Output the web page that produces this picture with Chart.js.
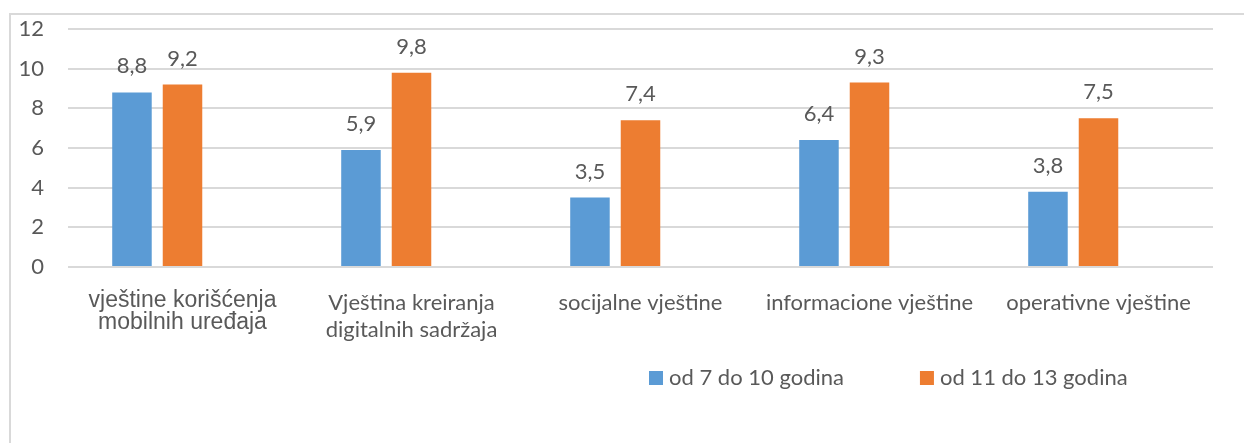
<!DOCTYPE html>
<html>
<head>
<meta charset="utf-8">
<script src="https://cdn.jsdelivr.net/npm/chart.js@4.4.0/dist/chart.umd.min.js"></script>
<style>
  html, body { margin: 0; padding: 0; background: #fff; }
  #wrap { position: relative; width: 1244px; height: 443px; overflow: hidden; }
  #frame { position: absolute; left: 9px; top: 13px; width: 1300px; height: 500px;
           border-top: 2px solid #D9D9D9; border-left: 2px solid #D9D9D9; box-sizing: border-box; }
  canvas { position: absolute; left: 0; top: 0; }
</style>
</head>
<body>
<div id="wrap">
  <div id="frame"></div>
  <canvas id="c" width="1244" height="443"></canvas>
</div>
<script>
const categories = [
  ['vještine korišćenja', 'mobilnih uređaja'],
  ['Vještina kreiranja', 'digitalnih sadržaja'],
  'socijalne vještine',
  'informacione vještine',
  'operativne vještine'
];
const seriesNames = ['od 7 do 10 godina', 'od 11 do 13 godina'];
const young = [8.8, 5.9, 3.5, 6.4, 3.8];
const older = [9.2, 9.8, 7.4, 9.3, 7.5];
const emptySeries = [null, null, null, null, null];
const yTicks = [0, 2, 4, 6, 8, 10, 12];

const BLUE = '#5B9BD5', ORANGE = '#ED7D31', TEXT = '#595959';
const CAL = 'Lato, "Open Sans", sans-serif';

const valueLabels = {
  id: 'valueLabels',
  afterDatasetsDraw(chart) {
    const ctx = chart.ctx;
    ctx.save();
    ctx.font = '22px ' + CAL;
    ctx.fillStyle = TEXT;
    ctx.textAlign = 'center';
    ctx.textBaseline = 'alphabetic';
    chart.data.datasets.forEach((ds, di) => {
      if (!ds.showValues) return;
      chart.getDatasetMeta(di).data.forEach((bar, i) => {
        const v = ds.data[i];
        if (v == null) return;
        ctx.fillText(v.toFixed(1).replace('.', ','), bar.x, bar.y - 19);
      });
    });
    ctx.restore();
  }
};

const customLegend = {
  id: 'customLegend',
  afterDraw(chart) {
    const ctx = chart.ctx;
    ctx.save();
    ctx.font = '22px ' + CAL;
    ctx.fillStyle = TEXT;
    ctx.textBaseline = 'alphabetic';
    let x = 649;
    const boxTop = 371, box = 14, baseline = 385;
    chart.data.datasets.forEach(ds => {
      if (!ds.inLegend) return;
      ctx.fillStyle = ds.backgroundColor;
      ctx.fillRect(x, boxTop, box, box);
      x += box + 6;
      ctx.fillStyle = TEXT;
      ctx.fillText(ds.label, x, baseline);
      x += ctx.measureText(ds.label).width + 76;
    });
    ctx.restore();
  }
};

new Chart(document.getElementById('c'), {
  type: 'bar',
  data: {
    labels: categories,
    datasets: [
      { label: seriesNames[0], data: young, backgroundColor: BLUE, showValues: true, inLegend: true },
      { label: seriesNames[1], data: older, backgroundColor: ORANGE, showValues: true, inLegend: true },
      { label: '', data: emptySeries, backgroundColor: 'rgba(0,0,0,0)' }
    ]
  },
  options: {
    responsive: false,
    animation: false,
    devicePixelRatio: 1,
    layout: { padding: { left: 0, right: 31, top: 29, bottom: 0 } },
    datasets: { bar: { categoryPercentage: 0.662, barPercentage: 0.782 } },
    plugins: { legend: { display: false }, tooltip: { enabled: false } },
    scales: {
      x: {
        grid: { display: false },
        border: { display: false },
        ticks: {
          color: TEXT,
          padding: 15,
          maxRotation: 0,
          autoSkip: false,
          font: (c) => c.index === 0
            ? { family: '"Liberation Sans", Arial, sans-serif', size: 23, lineHeight: 0.96 }
            : { family: CAL, size: 22, lineHeight: 1.2 }
        },
        afterFit(s) { s.height = 443 - 267; }
      },
      y: {
        min: 0, max: 12,
        afterBuildTicks(s) { s.ticks = yTicks.map(v => ({ value: v })); },
        grid: { color: '#D9D9D9', lineWidth: 2, drawTicks: false },
        border: { display: false },
        ticks: { color: TEXT, padding: 24, font: { family: CAL, size: 22, lineHeight: 0.4 } },
        afterFit(s) { s.width = 68; }
      }
    }
  },
  plugins: [valueLabels, customLegend]
});
</script>
</body>
</html>
